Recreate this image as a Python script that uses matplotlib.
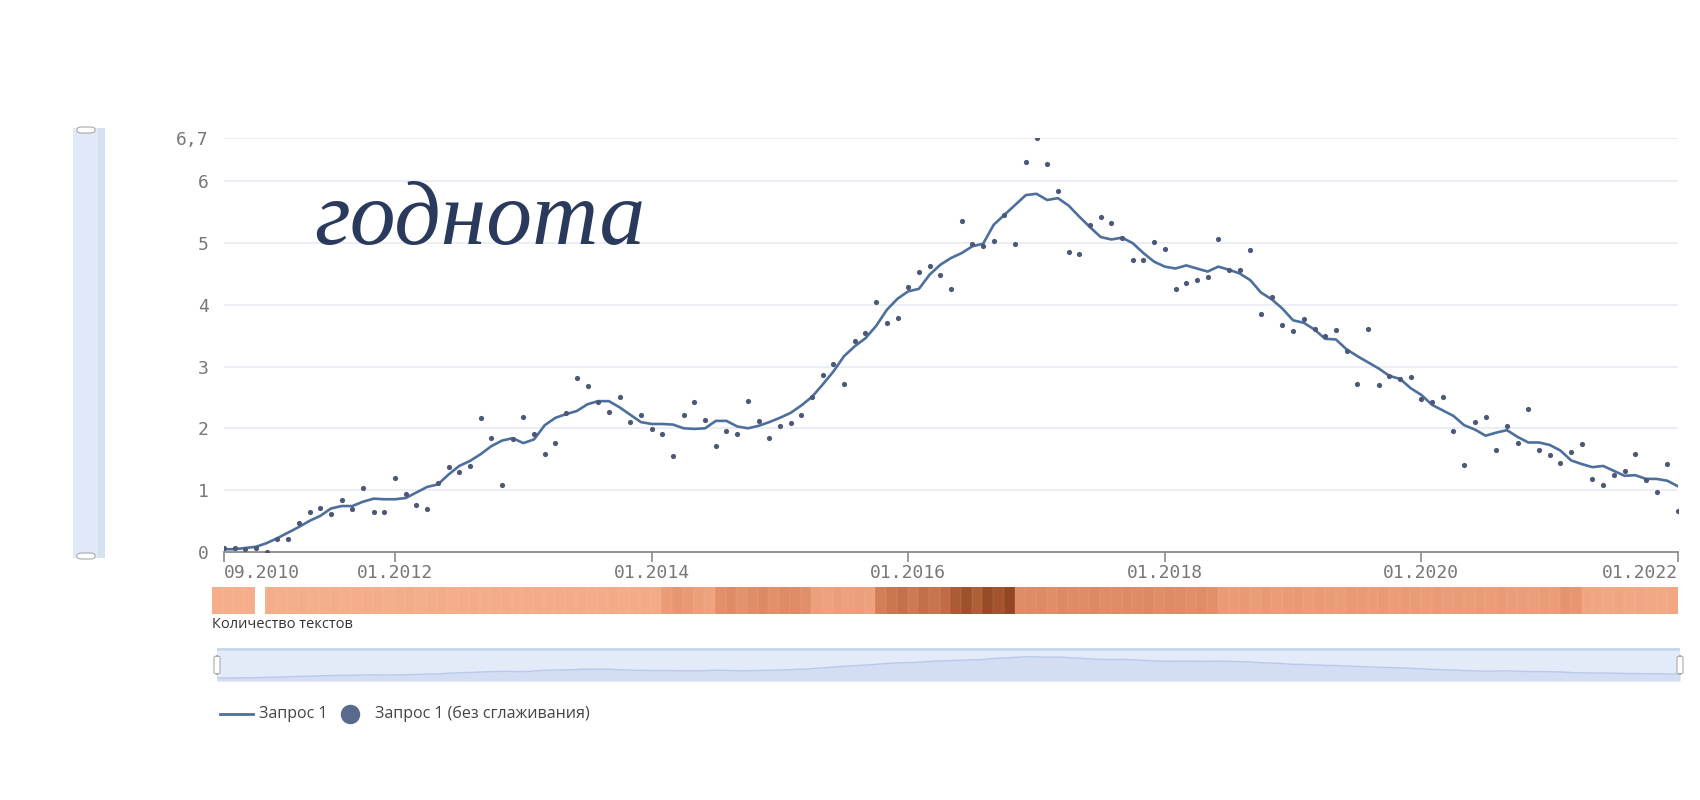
import matplotlib
matplotlib.use("Agg")
import matplotlib.pyplot as plt
import numpy as np
from matplotlib.colors import LinearSegmentedColormap
from matplotlib.patches import FancyBboxPatch, Rectangle

# ---------------- data ----------------
title_text = "годнота"
tick_months = [0, 16, 40, 64, 88, 112, 136]
tick_labels = ["09.2010", "01.2012", "01.2014", "01.2016", "01.2018", "01.2020", "01.2022"]
y_ticks = [0, 1, 2, 3, 4, 5, 6, 6.7]
y_tick_labels = ["0", "1", "2", "3", "4", "5", "6", "6,7"]

smoothed = [
    0.04, 0.04, 0.06, 0.08, 0.14, 0.22, 0.31, 0.40, 0.50, 0.58,
    0.70, 0.74, 0.74, 0.81, 0.86, 0.85, 0.85, 0.87, 0.96, 1.05,
    1.09, 1.25, 1.39, 1.47, 1.58, 1.71, 1.80, 1.84, 1.76, 1.82,
    2.05, 2.17, 2.23, 2.28, 2.39, 2.44, 2.44, 2.34, 2.22, 2.10,
    2.07, 2.07, 2.06, 2.00, 1.99, 2.00, 2.12, 2.12, 2.03, 2.00,
    2.04, 2.10, 2.17, 2.25, 2.37, 2.51, 2.71, 2.92, 3.17, 3.33,
    3.46, 3.66, 3.92, 4.10, 4.22, 4.26, 4.49, 4.65, 4.76, 4.84,
    4.95, 4.99, 5.30, 5.46, 5.62, 5.78, 5.80, 5.70, 5.73, 5.61,
    5.43, 5.26, 5.10, 5.06, 5.09, 5.00, 4.84, 4.70, 4.62, 4.59,
    4.64, 4.59, 4.54, 4.62, 4.57, 4.51, 4.40, 4.20, 4.09, 3.94,
    3.75, 3.71, 3.60, 3.45, 3.44, 3.28, 3.17, 3.07, 2.97, 2.85,
    2.80, 2.65, 2.54, 2.38, 2.29, 2.20, 2.05, 1.98, 1.88, 1.93,
    1.97, 1.86, 1.77, 1.77, 1.73, 1.64, 1.48, 1.42, 1.37, 1.39,
    1.31, 1.23, 1.24, 1.18, 1.18, 1.15, 1.06,
]

raw = [
    0.065, 0.06, 0.05, 0.055, 0.0, 0.20, 0.21, 0.47, 0.64, 0.71,
    0.61, 0.83, 0.69, 1.03, 0.65, 0.64, 1.20, 0.93, 0.75, 0.70,
    1.11, 1.37, 1.29, 1.39, 2.17, 1.84, 1.08, 1.83, 2.18, 1.91,
    1.59, 1.76, 2.25, 2.81, 2.69, 2.42, 2.27, 2.50, 2.11, 2.21,
    1.99, 1.90, 1.55, 2.21, 2.42, 2.14, 1.71, 1.95, 1.91, 2.45,
    2.12, 1.85, 2.03, 2.08, 2.22, 2.50, 2.87, 3.04, 2.72, 3.42,
    3.54, 4.05, 3.71, 3.79, 4.29, 4.54, 4.63, 4.48, 4.26, 5.36,
    4.98, 4.96, 5.04, 5.45, 4.99, 6.31, 6.70, 6.29, 5.85, 4.86,
    4.83, 5.29, 5.43, 5.32, 5.08, 4.72, 4.72, 5.02, 4.90, 4.25,
    4.36, 4.40, 4.45, 5.07, 4.57, 4.56, 4.89, 3.86, 4.12, 3.67,
    3.58, 3.77, 3.61, 3.50, 3.59, 3.26, 2.71, 3.61, 2.70, 2.84,
    2.80, 2.83, 2.47, 2.42, 2.50, 1.95, 1.41, 2.11, 2.18, 1.65,
    2.04, 1.76, 2.31, 1.65, 1.56, 1.43, 1.61, 1.74, 1.18, 1.08,
    1.25, 1.30, 1.58, 1.16, 0.96, 1.42, 0.66,
]

# number of texts per month (heat strip), estimated from colour intensity
text_counts = [
    30, 30, 30, 30, 0, 32, 30, 32, 34, 30,
    32, 34, 30, 32, 35, 33, 31, 34, 36, 33,
    34, 36, 33, 35, 37, 34, 36, 38, 35, 37,
    36, 38, 36, 37, 39, 37, 38, 40, 38, 39,
    40, 42, 80, 95, 85, 70, 60, 110, 120, 105,
    115, 125, 110, 120, 118, 112, 70, 65, 75, 68,
    72, 66, 150, 165, 175, 160, 180, 170, 185, 220,
    240, 215, 250, 235, 260, 120, 118, 122, 115, 125,
    120, 118, 124, 116, 120, 122, 118, 125, 114, 120,
    118, 112, 116, 110, 82, 80, 85, 78, 84, 80,
    82, 86, 79, 83, 80, 78, 85, 82, 80, 84,
    78, 82, 80, 76, 83, 79, 81, 77, 80, 78,
    82, 76, 79, 75, 80, 77, 100, 95, 55, 52,
    50, 54, 48, 52, 50, 46, 48,
]

legend_labels = ["Запрос 1", "Запрос 1 (без сглаживания)"]
strip_label = "Количество текстов"

# ---------------- figure ----------------
W, H = 1700, 800
fig = plt.figure(figsize=(17, 8), dpi=100)
fig.patch.set_facecolor("white")

def fx(px):
    return px / W

def fy(py):
    return 1 - py / H

months = np.arange(len(smoothed))
n = len(months)

# main axes
x0, x1 = 224, 1678
y0, y1 = 551.7, 138.3
ax = fig.add_axes([fx(x0), fy(y0), fx(x1 - x0), (y0 - y1) / H])
ax.set_xlim(0, n - 1)
ax.set_ylim(0, 6.7)
for yt in y_ticks[1:]:
    ax.axhline(yt, color="#e6e9f4", lw=1.1, zorder=0)
ax.plot(months, smoothed, color="#4d6f9d", lw=1.9, zorder=3, solid_joinstyle="round")
ax.scatter(months, raw, s=14, color="#4d5878", zorder=4, linewidths=0)
for s in ["top", "right", "left"]:
    ax.spines[s].set_visible(False)
ax.spines["bottom"].set_color("#8a8a8a")
ax.spines["bottom"].set_linewidth(1.3)
ax.set_yticks(y_ticks)
ax.set_yticklabels(y_tick_labels)
ax.tick_params(axis="y", length=0, pad=11, labelsize=13, labelcolor="#777777")
ax.set_xticks(tick_months)
ax.set_xticklabels(tick_labels)
ax.tick_params(axis="x", length=7, width=1.2, color="#8a8a8a", pad=2,
               labelsize=13, labelcolor="#777777")
for lbl in ax.get_yticklabels() + ax.get_xticklabels():
    lbl.set_family("DejaVu Sans Mono")
xl = ax.get_xticklabels()
xl[0].set_horizontalalignment("left")
xl[-1].set_horizontalalignment("right")
ax.set_facecolor("none")

# title inside chart
fig.text(fx(314), fy(244), title_text, family="Liberation Serif", style="italic",
         fontsize=66, color="#2a3a5c", ha="left", va="baseline")

# heat strip
hx0, hx1 = 212, 1678
hy0, hy1 = 614.5, 587
hax = fig.add_axes([fx(hx0), fy(hy0), fx(hx1 - hx0), (hy0 - hy1) / H])
cmap = LinearSegmentedColormap.from_list(
    "salmon", ["#f6b08e", "#ea9b76", "#d6835c", "#b8663f", "#924823"])
vals = np.array(text_counts, dtype=float)
vals = np.ma.masked_where(vals <= 0, vals)
cmap.set_bad("white")
hax.imshow(vals[np.newaxis, :], aspect="auto", cmap=cmap, vmin=25, vmax=260,
           interpolation="nearest", extent=(0, n, 0, 1))
for i in range(1, n):
    hax.axvline(i, color="white", lw=0.25, alpha=0.3)
hax.set_xlim(0, n)
hax.set_ylim(0, 1)
hax.axis("off")
fig.text(fx(212), fy(624), strip_label, family="Open Sans", fontsize=10.5,
         color="#333333", ha="left", va="center")

# navigator
nx0, nx1 = 217, 1680
ny0, ny1 = 681, 648
nax = fig.add_axes([fx(nx0), fy(ny0), fx(nx1 - nx0), (ny0 - ny1) / H])
nax.set_xlim(0, n - 1)
nax.set_ylim(-0.8, 8.2)
nax.set_facecolor("#e3eaf8")
nax.fill_between(months, -0.8, smoothed, color="#d3ddf3", lw=0)
nax.plot(months, smoothed, color="#b9c9ec", lw=1.0)
for s in nax.spines.values():
    s.set_visible(False)
nax.axhline(8.2, color="#c8d8ea", lw=4)
nax.set_xticks([])
nax.set_yticks([])
for hxp in [nx0, nx1]:
    fig.patches.append(FancyBboxPatch((fx(hxp - 3), fy(674)), fx(6), 18 / H,
                                      boxstyle="round,pad=0,rounding_size=0.002",
                                      transform=fig.transFigure, facecolor="white",
                                      edgecolor="#aaaaaa", lw=0.8, zorder=5))

# left vertical scroller
fig.patches.append(Rectangle((fx(73), fy(558)), fx(32), 430 / H, transform=fig.transFigure,
                             facecolor="#e1e8f8", edgecolor="none", zorder=1))
fig.patches.append(Rectangle((fx(98), fy(558)), fx(7), 430 / H, transform=fig.transFigure,
                             facecolor="#d3e1f2", edgecolor="none", zorder=1))
for hyp in [130, 556]:
    fig.patches.append(FancyBboxPatch((fx(77), fy(hyp + 3)), fx(18), 6 / H,
                                      boxstyle="round,pad=0,rounding_size=0.003",
                                      transform=fig.transFigure, facecolor="white",
                                      edgecolor="#aaaaaa", lw=0.8, zorder=5))

# legend
ly = 714
fig.add_artist(plt.Line2D([fx(220), fx(253)], [fy(ly), fy(ly)], color="#4d6f9d", lw=2,
                          transform=fig.transFigure))
fig.text(fx(259), fy(ly), legend_labels[0], family="Open Sans", fontsize=11.5,
         color="#444444", ha="left", va="center")
fig.add_artist(plt.Line2D([fx(350)], [fy(ly)], marker="o", markersize=13, color="#5a6a8c",
                          transform=fig.transFigure, lw=0))
fig.text(fx(375), fy(ly), legend_labels[1], family="Open Sans", fontsize=11.5,
         color="#444444", ha="left", va="center")

fig.savefig("out.png", dpi=100, facecolor="white")
